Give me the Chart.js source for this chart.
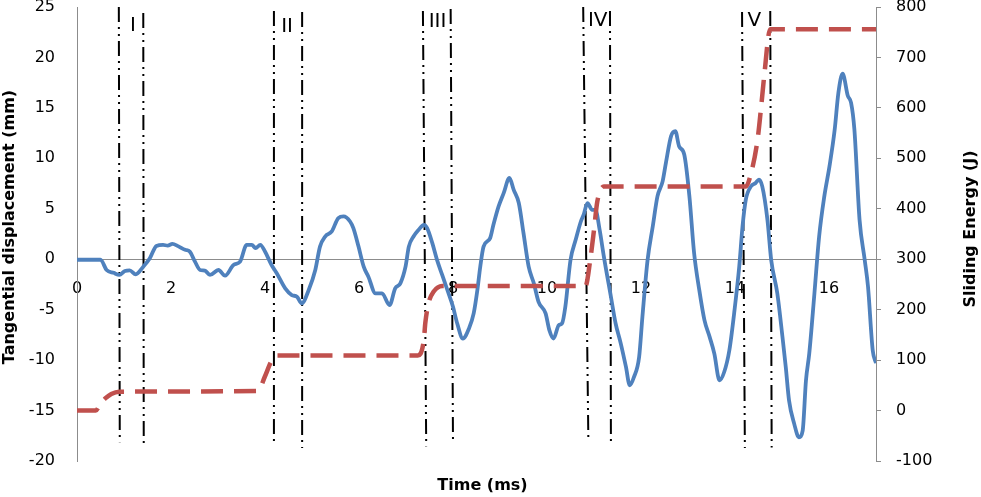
<!DOCTYPE html>
<html>
<head>
<meta charset="utf-8">
<script src="https://cdn.jsdelivr.net/npm/chart.js@4/dist/chart.umd.min.js"></script>
<style>
  body { margin: 0; background: #fff; }
  #myChart { display: block; }
</style>
</head>
<body>
<canvas id="myChart" width="981" height="497"></canvas>
<script>
// tangential displacement (blue), left axis
var dispTime = [0, 0.5, 0.63, 0.78, 0.9, 1.02, 1.12, 1.25, 1.41, 1.55, 1.69, 1.83, 1.93, 2.03, 2.15, 2.3, 2.4, 2.51, 2.62, 2.72, 2.83,
  3.01, 3.15, 3.33, 3.47, 3.61, 3.72, 3.8, 3.9, 4.0, 4.14, 4.25, 4.43, 4.57, 4.68, 4.78, 4.93, 5.07, 5.17, 5.28, 5.42, 5.56, 5.67,
  5.81, 5.88, 5.99, 6.1, 6.2, 6.35, 6.49, 6.65, 6.77, 6.88, 6.99, 7.06, 7.16, 7.27, 7.38, 7.45, 7.56, 7.66, 7.77, 7.88, 8.0, 8.09,
  8.21, 8.34, 8.44, 8.52, 8.58, 8.65, 8.79, 8.86, 8.97, 9.08, 9.2, 9.29, 9.4, 9.5, 9.61, 9.72, 9.82, 9.97, 10.05, 10.14, 10.25,
  10.32, 10.39, 10.5, 10.61, 10.72, 10.78, 10.86, 10.96, 11.03, 11.12, 11.21, 11.36, 11.46, 11.57, 11.68, 11.76, 11.85, 11.96,
  12.03, 12.14, 12.25, 12.35, 12.46, 12.53, 12.64, 12.73, 12.81, 12.92, 13.03, 13.13, 13.24, 13.35, 13.46, 13.56, 13.67, 13.77,
  13.88, 13.99, 14.09, 14.16, 14.23, 14.34, 14.44, 14.51, 14.58, 14.69, 14.77, 14.9, 15.01, 15.08, 15.15, 15.26, 15.36, 15.44,
  15.51, 15.58, 15.69, 15.79, 15.9, 16.01, 16.12, 16.2, 16.29, 16.4, 16.47, 16.54, 16.65, 16.76, 16.83, 16.93, 17.0];
var dispMm = [-0.05, -0.05, -1.07, -1.35, -1.56, -1.16, -1.1, -1.5, -0.74, 0.1, 1.32, 1.42, 1.35, 1.52, 1.3, 0.93, 0.76, -0.24, -1.07, -1.13, -1.56,
  -1.07, -1.63, -0.57, -0.24, 1.42, 1.42, 1.1, 1.42, 0.76, -0.57, -1.39, -2.89, -3.55, -3.72, -4.38, -3.05, -1.07, 1.25, 2.25, 2.75, 4.08, 4.24,
  3.74, 3.08, 1.25, -0.74, -1.73, -3.38, -3.38, -4.55, -2.89, -2.39, -0.74, 1.25, 2.25, 2.92, 3.41, 3.08, 1.59, -0.07, -1.56, -3.05, -4.72, -6.37,
  -7.86, -6.87, -5.37, -3.0, -0.74, 1.25, 2.09, 3.41, 5.23, 6.57, 8.06, 6.9, 5.57, 2.59, -0.74, -2.39, -4.22, -5.37, -7.03, -7.86, -6.54,
  -6.37, -4.72, -0.07, 1.92, 3.74, 4.41, 5.57, 4.9, 4.9, 2.92, 0.26, -3.72, -6.37, -8.36, -10.68, -12.5, -11.68, -9.69,
  -5.71, -0.07, 3.24, 6.23, 7.72, 9.55, 12.2, 12.7, 11.2, 10.38, 6.23, 0.6, -3.05, -6.04, -7.7, -9.35, -12.0, -11.18,
  -9.02, -5.04, -0.74, 3.24, 5.9, 7.22, 7.56, 7.89, 7.22, 3.91, -0.07, -3.38, -7.7, -10.68, -14.0, -16.32, -17.65, -16.98,
  -12.0, -9.35, -3.38, 2.25, 6.23, 9.2, 12.8, 16.5, 18.4, 16.2, 15.5, 12.87, 3.91, -0.07, -2.72, -9.02, -10.3];

// sliding energy (red dashed), right axis
var energyTime = [0, 0.4, 0.5, 0.6, 0.73, 0.9, 3.85, 4.0, 4.12, 4.22, 7.25, 7.38, 7.41, 7.48, 7.59, 7.77,
  10.82, 10.92, 11.0, 11.07, 11.21, 14.23, 14.34, 14.48, 14.55, 14.62, 14.75, 17.0];
var energyJ = [0, 0, 14, 24, 33, 37.5, 39, 68, 95, 109, 109, 140, 173, 213, 236, 247,
  247, 299, 358, 414, 444, 444, 470, 537, 596, 662, 756, 756];

// stage boundary lines (dash-dot-dot)
var vlineTopTime = [0.89, 1.41, 4.19, 4.79, 7.36, 7.95, 10.77, 11.34, 14.15, 14.75];
var vlineBottomTime = [0.91, 1.42, 4.19, 4.79, 7.43, 8.0, 10.88, 11.36, 14.21, 14.78];
var vlineTopMm = [25, 24.4, 24.6, 24.5, 24.6, 24.8, 25, 24.6, 24.5, 24.6];
var vlineBottomMm = [-18.15, -18.7, -18.5, -18.7, -18.55, -18.3, -17.9, -18.4, -18.7, -18.65];

var stageLabels = ['I', 'II', 'III', 'IV', 'V'];
var stageLabelTime = [1.19, 4.47, 7.67, 11.08, 14.41];
var stageLabelMm = [23.1, 23.0, 23.5, 23.6, 23.6];

var leftMin = -20, leftMax = 25, leftStep = 5;
var rightMin = -100, rightMax = 800, rightStep = 100;
var timeMin = 0, timeMax = 17, timeStep = 2;

var FONT = "'DejaVu Sans', sans-serif";
var AXIS_GREY = '#8c8c8c';

var datasets = [];
datasets.push({
  label: 'Sliding Energy',
  data: energyTime.map(function (t, i) { return { x: t, y: energyJ[i] }; }),
  yAxisID: 'y1',
  borderColor: '#c0504d',
  borderWidth: 4.5,
  borderDash: [22, 11],
  pointRadius: 0,
  cubicInterpolationMode: 'monotone',
  order: 0
});
datasets.push({
  label: 'Tangential displacement',
  data: dispTime.map(function (t, i) { return { x: t, y: dispMm[i] }; }),
  yAxisID: 'y',
  borderColor: '#4f81bd',
  borderWidth: 3.8,
  pointRadius: 0,
  cubicInterpolationMode: 'monotone',
  order: 1
});
vlineTopTime.forEach(function (t, i) {
  datasets.push({
    label: 'stage' + i,
    data: [{ x: t, y: vlineTopMm[i] }, { x: vlineBottomTime[i], y: vlineBottomMm[i] }],
    yAxisID: 'y',
    borderColor: '#000',
    borderWidth: 2,
    borderDash: [15, 5, 2, 5, 2, 5],
    pointRadius: 0,
    order: 2
  });
});

// roman stage labels and axis titles
var textPlugin = {
  id: 'textPlugin',
  afterDatasetsDraw: function (chart) {
    var ctx = chart.ctx;
    var xs = chart.scales.x, ys = chart.scales.y;
    ctx.save();
    ctx.fillStyle = '#000';
    ctx.textAlign = 'center';
    ctx.textBaseline = 'middle';
    ctx.font = "20px " + FONT;
    stageLabels.forEach(function (s, i) {
      ctx.fillText(s, xs.getPixelForValue(stageLabelTime[i]), ys.getPixelForValue(stageLabelMm[i]));
    });
    ctx.font = "bold 16px " + FONT;
    var ca = chart.chartArea;
    ctx.fillText('Time (ms)', (ca.left + ca.right) / 2 + 6, 486);
    ctx.save();
    ctx.translate(10, 227);
    ctx.rotate(-Math.PI / 2);
    ctx.fillText('Tangential displacement (mm)', 0, 0);
    ctx.restore();
    ctx.save();
    ctx.translate(971, 229);
    ctx.rotate(-Math.PI / 2);
    ctx.fillText('Sliding Energy (J)', 0, 0);
    ctx.restore();
    ctx.restore();
  }
};

function noPad(s) {
  s.paddingTop = 0; s.paddingBottom = 0; s.paddingLeft = 0; s.paddingRight = 0;
}

new Chart(document.getElementById('myChart'), {
  type: 'line',
  data: { datasets: datasets },
  plugins: [textPlugin],
  options: {
    responsive: false,
    animation: false,
    devicePixelRatio: 1,
    layout: { padding: { top: 7, bottom: 36, left: 0, right: 0 } },
    plugins: { legend: { display: false }, tooltip: { enabled: false } },
    scales: {
      x: {
        type: 'linear',
        position: { y: 0 },
        min: timeMin,
        max: timeMax,
        afterFit: function (s) { s.height = 0; noPad(s); },
        grid: { display: false, drawTicks: false },
        border: { display: true, color: AXIS_GREY, width: 1 },
        ticks: { stepSize: timeStep, includeBounds: false, padding: 20, color: '#000', font: { family: FONT, size: 16 } }
      },
      y: {
        position: 'left',
        min: leftMin,
        max: leftMax,
        afterFit: function (s) { s.width = 77; noPad(s); },
        grid: { display: false, drawTicks: false },
        border: { display: true, color: AXIS_GREY, width: 1 },
        ticks: { stepSize: leftStep, padding: 22, color: '#000', font: { family: FONT, size: 16 } }
      },
      y1: {
        position: 'right',
        min: rightMin,
        max: rightMax,
        afterFit: function (s) { s.width = 105; noPad(s); },
        grid: { drawOnChartArea: false, drawTicks: true, tickLength: 5, color: AXIS_GREY },
        border: { display: true, color: AXIS_GREY, width: 1 },
        ticks: { stepSize: rightStep, padding: 15, color: '#000', font: { family: FONT, size: 16 } }
      }
    }
  }
});
</script>
</body>
</html>
